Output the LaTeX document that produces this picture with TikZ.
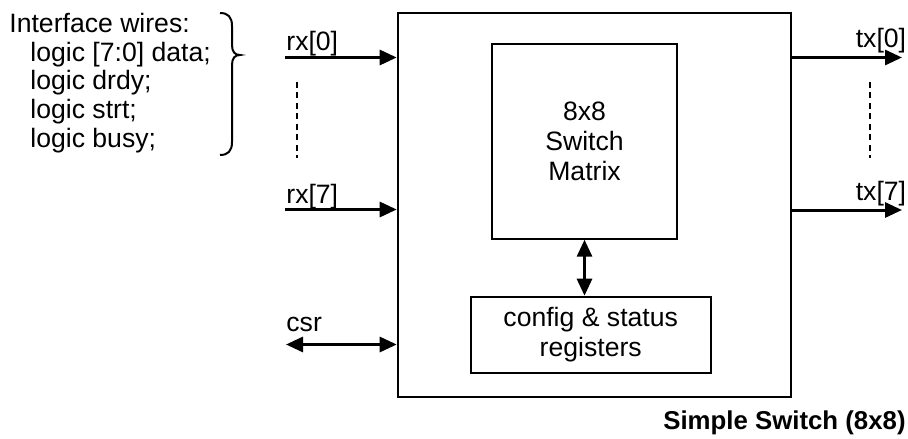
\documentclass[tikz,border=0pt]{standalone}
\usepackage{fontspec}
\setmainfont{Liberation Sans}
\usetikzlibrary{arrows.meta}
\tikzset{
  blk/.style={draw, line width=1pt, inner sep=0pt, align=center},
  lbl/.style={inner sep=0pt},
  sig/.style={line width=1.5pt, -{Triangle[length=8.5pt,width=7.5pt]}},
  bisig/.style={line width=1.5pt, {Triangle[length=8.5pt,width=7.5pt]}-{Triangle[length=8.5pt,width=7.5pt]}},
  dots/.style={line width=1pt, dash pattern=on 3pt off 2.25pt}
}
\begin{document}
\begin{tikzpicture}[x=0.5pt, y=-0.5pt, font=\fontsize{13.3pt}{14.4pt}\selectfont]
  \useasboundingbox (0,0) rectangle (908,438);

  % Blocks
  \node[blk, minimum width=196.5pt, minimum height=191.7pt] (sw) at (594.2,205) {};
  \node[blk, minimum width=92.2pt, minimum height=97.2pt, font=\fontsize{13.3pt}{15pt}\selectfont] (mtx) at (584.5,141.5) {8x8\\Switch\\Matrix};
  \node[blk, minimum width=120pt, minimum height=38pt, font=\fontsize{13.3pt}{14.6pt}\selectfont] (cfg) at (590.7,334.7) {config \& status\\registers};
  \draw[bisig] (mtx.south) -- (mtx.south |- cfg.north);

  % Interface wires
  \node[lbl, anchor=north west, align=left] (wires) at (9,12.6)
    {Interface wires:\\\hspace*{10.5pt}logic [7:0] data;\\\hspace*{10.5pt}logic drdy;\\\hspace*{10.5pt}logic strt;\\\hspace*{10.5pt}logic busy;};
  \draw[line width=1pt] (220,13) .. controls (228,13) and (232,17) .. (232,26) -- (232,45)
    .. controls (232,52) and (235,55) .. (240,55) .. controls (235,55) and (232,58) .. (232,65)
    -- (232,142) .. controls (232,151) and (228,155) .. (220,155);

  % Inputs
  \coordinate (rx0) at (285,57.5);
  \coordinate (rx7) at (285,209.5);
  \coordinate (csr) at (286,344.5);
  \draw[sig] (rx0) -- (rx0 -| sw.west);
  \draw[sig] (rx7) -- (rx7 -| sw.west);
  \draw[bisig] (csr) -- (csr -| sw.west);
  \node[lbl, anchor=base west] (rx0lbl) at (286,50.7) {rx[0]};
  \node[lbl, anchor=base west] (rx7lbl) at (286,203) {rx[7]};
  \node[lbl, anchor=base west] (csrlbl) at (286,331.7) {csr};
  \coordinate (rxtop) at (297,82);
  \coordinate (rxbot) at (297,158);
  \draw[dots] (rxtop) -- (rxbot);

  % Outputs
  \coordinate (tx0) at (902,57.5);
  \coordinate (tx7) at (902,210);
  \draw[sig] (tx0 -| sw.east) -- (tx0);
  \draw[sig] (tx7 -| sw.east) -- (tx7);
  \node[lbl, anchor=base east] (tx0lbl) at (906.5,48) {tx[0]};
  \node[lbl, anchor=base east] (tx7lbl) at (906.5,200) {tx[7]};
  \coordinate (txtop) at (870,82);
  \coordinate (txbot) at (870,158);
  \draw[dots] (txtop) -- (txbot);

  % Title
  \node[lbl, anchor=base east, font=\bfseries\fontsize{12.9pt}{14.4pt}\selectfont] (title) at (906,429) {Simple Switch (8x8)};
\end{tikzpicture}
\end{document}
